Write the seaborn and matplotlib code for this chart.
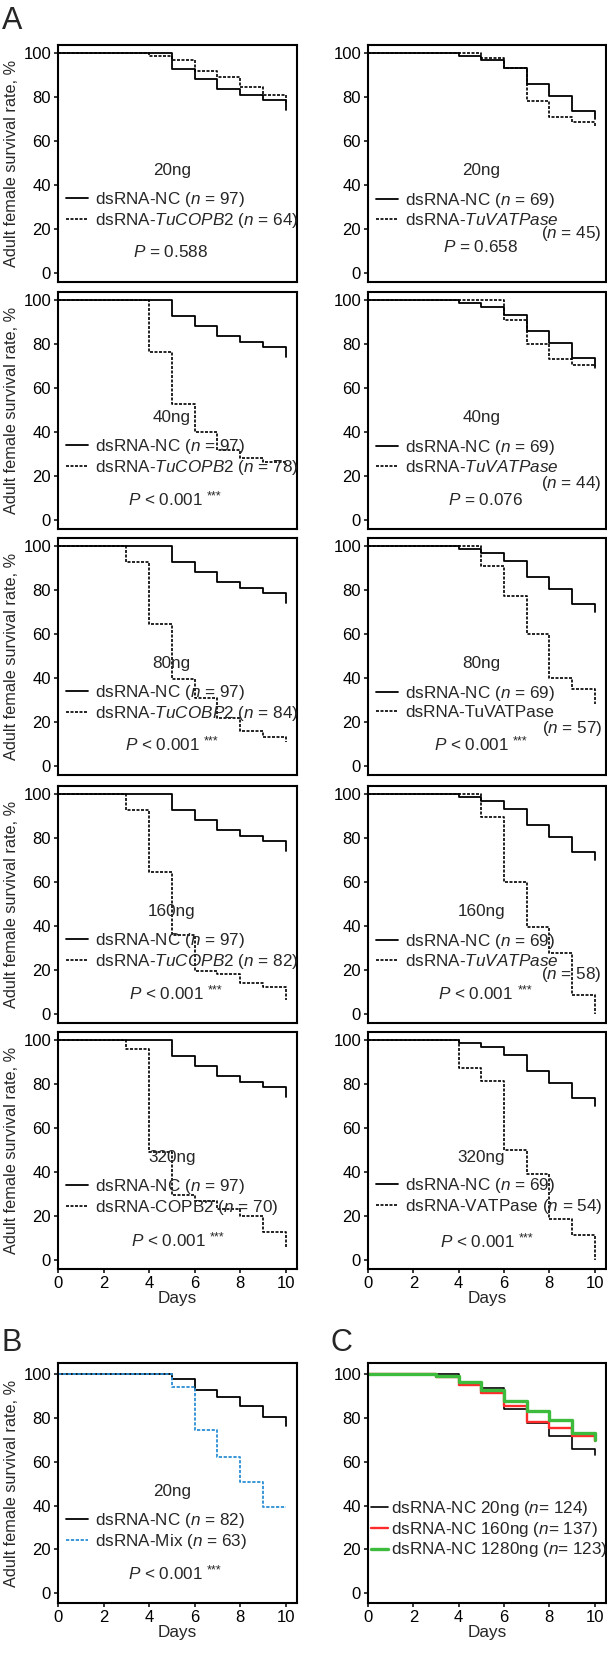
import matplotlib
matplotlib.use("Agg")
import matplotlib.pyplot as plt
import seaborn as sns

# ---- data (survival %, days 0..10) ----
days = [0, 1, 2, 3, 4, 5, 6, 7, 8, 9, 10]

nc_97 = [100, 100, 100, 100, 100, 92.8, 88, 83.5, 81, 78.5, 74]
nc_69 = [100, 100, 100, 100, 98.5, 96.7, 93, 85.8, 80.6, 73.7, 70]

copb2_20 = [100, 100, 100, 100, 98.5, 97, 92, 89, 84.5, 81, 77]
copb2_40 = [100, 100, 100, 100, 76.2, 52.9, 39.8, 32, 28.3, 26.5, 25]
copb2_80 = [100, 100, 100, 92.8, 64.7, 39.4, 31, 21.7, 16, 13.3, 10.7]
copb2_160 = [100, 100, 100, 92.7, 64.7, 35.9, 19.5, 18.2, 14.3, 12.3, 6.2]
copb2_320 = [100, 100, 100, 95.9, 49.2, 29.5, 27, 23.3, 20.2, 12.9, 5.8]

vat_20 = [100, 100, 100, 100, 100, 97.7, 93.2, 78, 71.1, 68.5, 66.5]
vat_40 = [100, 100, 100, 100, 100, 100, 91, 80, 73, 70.5, 68.5]
vat_80 = [100, 100, 100, 100, 100, 91, 77.4, 60, 40, 35, 28]
vat_160 = [100, 100, 100, 100, 100, 89.7, 60.2, 39.7, 27.6, 8.8, 0]
vat_320 = [100, 100, 100, 100, 87.1, 81.5, 50, 38.9, 18.6, 11.2, 0]

nc_82 = [100, 100, 100, 100, 100, 97.6, 92.7, 89.7, 85.4, 80.2, 76.3]
mix_63 = [100, 100, 100, 100, 100, 93.9, 74.5, 62, 50.9, 39.5, 39.2]

nc20_124 = [100, 100, 100, 100, 96.5, 93.5, 84, 77.5, 71.8, 66, 63]
nc160_137 = [100, 100, 100, 98.5, 95, 91.2, 85.5, 78, 75.3, 71.5, 69.5]
nc1280_123 = [100, 100, 100, 99, 96.5, 92.7, 87.8, 83, 78.8, 73, 70]

doses = ["20ng", "40ng", "80ng", "160ng", "320ng"]
copb2_curves = [copb2_20, copb2_40, copb2_80, copb2_160, copb2_320]
vat_curves = [vat_20, vat_40, vat_80, vat_160, vat_320]
copb2_n = [64, 78, 84, 82, 70]
vat_n = [45, 44, 57, 58, 54]
copb2_names = ["dsRNA-$\\it{TuCOPB2}$", "dsRNA-$\\it{TuCOPB2}$", "dsRNA-$\\it{TuCOBP2}$",
               "dsRNA-$\\it{TuCOPB2}$", "dsRNA-COPB2"]
vat_names = ["dsRNA-$\\it{TuVATPase}$", "dsRNA-$\\it{TuVATPase}$", "dsRNA-TuVATPase",
             "dsRNA-$\\it{TuVATPase}$", "dsRNA-VATPase"]
copb2_p = ["= 0.588", "< 0.001", "< 0.001", "< 0.001", "< 0.001"]
vat_p = ["= 0.658", "= 0.076", "< 0.001", "< 0.001", "< 0.001"]

# ---- style ----
sns.set_style("ticks")
plt.rcParams["font.family"] = ["Liberation Sans", "DejaVu Sans"]
plt.rcParams["mathtext.fontset"] = "custom"
plt.rcParams["mathtext.rm"] = "Liberation Sans"
plt.rcParams["mathtext.it"] = "Liberation Sans:italic"
plt.rcParams["mathtext.bf"] = "Liberation Sans:bold"
plt.rcParams["lines.dashed_pattern"] = [1.8, 0.9]
FS = 12.3

W, H = 607, 1654
fig = plt.figure(figsize=(W / 100, H / 100), dpi=100)


def add_ax(left, top, w, h):
    return fig.add_axes([left / W, 1 - (top + h) / H, w / W, h / H])


def p_label(ax, x, y, p):
    t = ax.text(x, y, "$\\it{P}$ " + p, ha="left", va="center", fontsize=FS)
    if p.startswith("<"):
        # small raised stars after the p value
        ax.annotate("***", xy=(1, 1), xycoords=t, xytext=(3, 1), textcoords="offset points",
                    ha="left", va="top", fontsize=9)


def style_ax(ax, ylim, show_x, show_ylab):
    ax.set_xlim(0, 10.5)
    ax.set_ylim(*ylim)
    ax.set_yticks([0, 20, 40, 60, 80, 100])
    ax.set_xticks([0, 2, 4, 6, 8, 10])
    for s in ax.spines.values():
        s.set_linewidth(1.5)
        s.set_color("black")
    ax.tick_params(direction="out", length=3, width=1.1, labelsize=12, pad=2, colors="black")
    if show_x:
        ax.set_xlabel("Days", fontsize=FS, labelpad=0)
    else:
        ax.tick_params(axis="x", bottom=False, labelbottom=False)
        ax.set_xlabel("")
    if show_ylab:
        ax.set_ylabel("Adult female survival rate, %", fontsize=11.7)
        ax.yaxis.set_label_coords(-0.165, 0.5)
    else:
        ax.set_ylabel("")


def make_legend(ax, handles, labels, y, hl=1.25, hp=0.45, x=0.37, ls=0.12):
    ax.legend(handles=handles, labels=labels, loc="center left",
              bbox_to_anchor=(x, y), bbox_transform=ax.transData,
              frameon=False, borderpad=0, borderaxespad=0, handlelength=hl,
              handletextpad=hp, labelspacing=ls, fontsize=FS)


row_tops = [45, 292, 538, 786, 1032]
left_p_y = [9.6, 9.1, 9.5, 9.2, 8.8]
left_p_x = [3.3, 3.08, 2.93, 3.12, 3.2]
right_p_y = [11.6, 9.1, 9.5, 9.2, 8.3]
right_p_x = [3.3, 3.53, 2.9, 3.1, 3.16]
right_n_y = [17.8, 16.7, 17.2, 17.8]
ylim_a = (-4.1, 103.6)

for i in range(5):
    last = i == 4
    # left column: COPB2
    ax = add_ax(58, row_tops[i], 239, 237)
    sns.lineplot(x=days, y=nc_97, ax=ax, drawstyle="steps-post", color="black", lw=1.3)
    sns.lineplot(x=days, y=copb2_curves[i], ax=ax, drawstyle="steps-post", color="black",
                 lw=1.2, linestyle="--")
    style_ax(ax, ylim_a, last, True)
    lines = ax.get_lines()
    make_legend(ax, lines[:2], ["dsRNA-NC ($\\it{n}$ = 97)",
                                copb2_names[i] + " ($\\it{n}$ = %d)" % copb2_n[i]], 28.5)
    ax.text(5.0, 46.7, doses[i], ha="center", va="center", fontsize=FS)
    p_label(ax, left_p_x[i], left_p_y[i], copb2_p[i])

    # right column: VATPase
    ax = add_ax(368, row_tops[i], 238, 237)
    sns.lineplot(x=days, y=nc_69, ax=ax, drawstyle="steps-post", color="black", lw=1.3)
    sns.lineplot(x=days, y=vat_curves[i], ax=ax, drawstyle="steps-post", color="black",
                 lw=1.2, linestyle="--")
    style_ax(ax, ylim_a, last, False)
    lines = ax.get_lines()
    if last:
        lab2 = vat_names[i] + " ($\\it{n}$ = %d)" % vat_n[i]
    else:
        lab2 = vat_names[i]
        ax.text(10.32, right_n_y[i], "($\\it{n}$ = %d)" % vat_n[i], ha="right", va="center",
                fontsize=FS)
    make_legend(ax, lines[:2], ["dsRNA-NC ($\\it{n}$ = 69)", lab2], 28.9)
    ax.text(5.0, 46.7, doses[i], ha="center", va="center", fontsize=FS)
    p_label(ax, right_p_x[i], right_p_y[i], vat_p[i])

# ---- B ----
ylim_bc = (-4.4, 105)
ax = add_ax(58, 1363, 239, 240)
sns.lineplot(x=days, y=nc_82, ax=ax, drawstyle="steps-post", color="black", lw=1.3)
sns.lineplot(x=days, y=mix_63, ax=ax, drawstyle="steps-post", color="#2b8fd6", lw=1.3,
             linestyle="--")
style_ax(ax, ylim_bc, True, True)
lines = ax.get_lines()
make_legend(ax, lines[:2], ["dsRNA-NC ($\\it{n}$ = 82)", "dsRNA-Mix ($\\it{n}$ = 63)"], 28.5)
ax.text(5.0, 46.2, "20ng", ha="center", va="center", fontsize=FS)
p_label(ax, 3.08, 8.8, "< 0.001")

# ---- C ----
ax = add_ax(368, 1363, 238, 240)
sns.lineplot(x=days, y=nc20_124, ax=ax, drawstyle="steps-post", color="black", lw=1.2)
sns.lineplot(x=days, y=nc160_137, ax=ax, drawstyle="steps-post", color="#ff2b2b", lw=1.7)
sns.lineplot(x=days, y=nc1280_123, ax=ax, drawstyle="steps-post", color="#3dbb3d", lw=2.4)
style_ax(ax, ylim_bc, True, False)
lines = ax.get_lines()
make_legend(ax, lines[:3], ["dsRNA-NC 20ng ($\\it{n}$= 124)",
                            "dsRNA-NC 160ng ($\\it{n}$= 137)",
                            "dsRNA-NC 1280ng ($\\it{n}$= 123)"], 29.2,
            hl=1.0, hp=0.15, x=0.15, ls=0.1)

fig.text(2 / W, 1 - 6 / H, "A", fontsize=22, va="top", ha="left")
fig.text(2 / W, 1 - 1328 / H, "B", fontsize=22, va="top", ha="left")
fig.text(331 / W, 1 - 1328 / H, "C", fontsize=22, va="top", ha="left")

fig.savefig("out.png", dpi=100)
